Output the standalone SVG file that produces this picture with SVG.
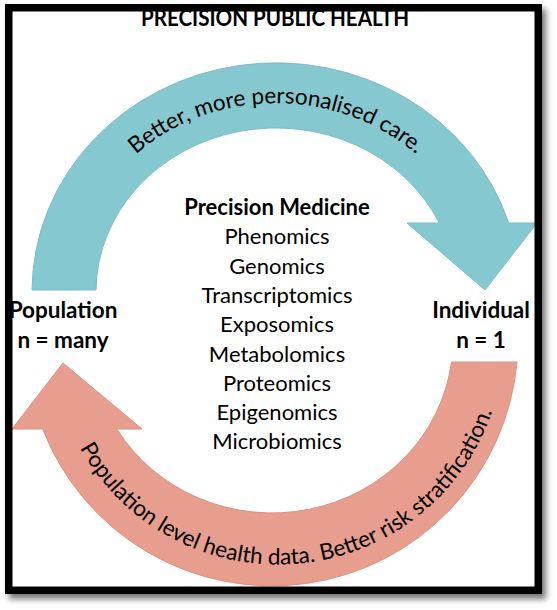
<svg xmlns="http://www.w3.org/2000/svg" width="557" height="610" viewBox="0 0 557 610">
  <style>
    .txt { font-family: Lato, "Liberation Sans", sans-serif; fill: #000; }
    .list { font-size: 22px; text-anchor: middle; }
    .bold { font-weight: bold; }
    .lbl { font-size: 22.5px; font-weight: bold; text-anchor: middle; }
    .curve { font-size: 22.5px; }
    .teal { fill: #86C8CF; stroke: #7BBDC5; stroke-width: 1; }
    .salmon { fill: #E89E8E; stroke: #DD8F7F; stroke-width: 1; }
  </style>
  <defs>
    <filter id="shadow" x="-5%" y="-5%" width="115%" height="115%">
      <feDropShadow dx="4" dy="5" stdDeviation="3" flood-color="#000" flood-opacity="0.55"/>
    </filter>
    <path id="topTextPath" d="M 71.8,275.5 A 205 189 0 0 1 480.2,275.5"/>
    <path id="bottomTextPath" d="M 52.9,359.6 A 226 225 0 0 0 503.1,359.6"/>
  </defs>

  <rect width="557" height="610" fill="#fff"/>

  <g id="background">
    <rect x="5" y="4" width="537" height="590" fill="#fff" filter="url(#shadow)"/>
  </g>

  <g id="connectors">
    <g id="arrow-top">
      <path class="teal" d="M 32,290 A 244 229 0 0 1 508.7,223 L 537,223 L 485,290 L 407,223 L 439.3,223 A 180 164 0 0 0 96,290 Z"/>
      <text class="txt curve"><textPath href="#topTextPath" startOffset="50%" text-anchor="middle">Better, more personalised care.</textPath></text>
    </g>
    <g id="arrow-bottom">
      <path class="salmon" d="M 517,362 A 246 246 0 0 1 42.7,429 L 12,429 L 63,363 L 142,429 L 116.8,429 A 181 173 0 0 0 451.5,362 Z"/>
      <text class="txt curve"><textPath href="#bottomTextPath" startOffset="53%" text-anchor="middle">Population level health data. Better risk stratification.</textPath></text>
    </g>
  </g>

  <g id="title">
    <text class="txt bold" x="275" y="25.5" font-size="22" text-anchor="middle" textLength="268" lengthAdjust="spacingAndGlyphs">PRECISION PUBLIC HEALTH</text>
  </g>

  <g id="precision-medicine">
    <text class="txt list bold" x="277" y="215">Precision Medicine</text>
    <text class="txt list" x="277" y="244.3">Phenomics</text>
    <text class="txt list" x="277" y="273.6">Genomics</text>
    <text class="txt list" x="277" y="302.9">Transcriptomics</text>
    <text class="txt list" x="277" y="332.2">Exposomics</text>
    <text class="txt list" x="277" y="361.5">Metabolomics</text>
    <text class="txt list" x="277" y="390.8">Proteomics</text>
    <text class="txt list" x="277" y="420.1">Epigenomics</text>
    <text class="txt list" x="277" y="449.4">Microbiomics</text>
  </g>

  <g id="population">
    <text class="txt lbl" x="63" y="318">Population</text>
    <text class="txt lbl" x="63" y="348">n = many</text>
  </g>

  <g id="individual">
    <text class="txt lbl" x="481" y="318">Individual</text>
    <text class="txt lbl" x="481" y="348">n = 1</text>
  </g>

  <g id="frame">
    <rect x="8.75" y="7.75" width="529.5" height="582.5" fill="none" stroke="#000" stroke-width="7.5"/>
  </g>
</svg>
